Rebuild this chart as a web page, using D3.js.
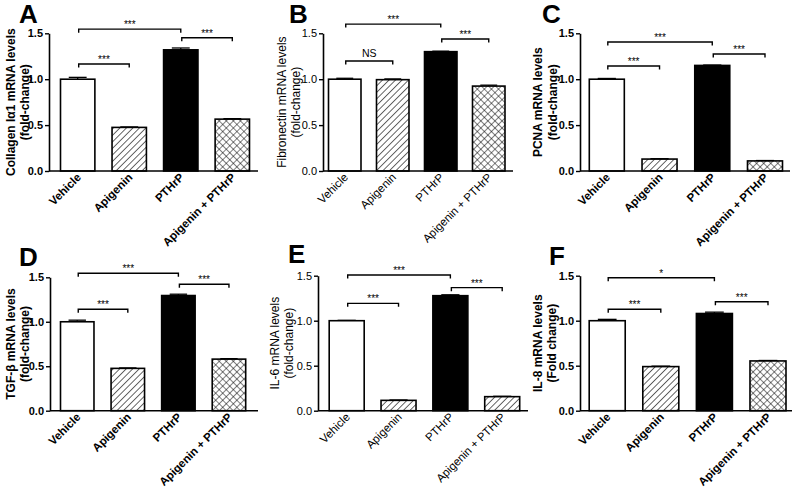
<!DOCTYPE html>
<html>
<head>
<meta charset="utf-8">
<script src="https://cdn.jsdelivr.net/npm/d3@7"></script>
<style>
  html, body { margin: 0; padding: 0; background: #fff; }
  svg { display: block; font-family: "Liberation Sans", Arial, Helvetica, sans-serif; }
</style>
</head>
<body>
<svg id="chart" width="800" height="489"></svg>
<script>
// ---------------- DATA ----------------
const categories = ["Vehicle", "Apigenin", "PTHrP", "Apigenin + PTHrP"];
const yTicks = [0, 0.5, 1.0, 1.5];
const panelLetters = ["A", "B", "C", "D", "E", "F"];
const titleLine1 = ["Collagen I\u03B11 mRNA levels", "Fibronectin mRNA levels", "PCNA mRNA levels",
                    "TGF-\u03B2 mRNA levels", "IL-6 mRNA levels", "IL-8 mRNA levels"];
const titleLine2 = ["(fold-change)", "(fold-change)", "(fold-change)",
                    "(fold-change)", "(fold-change)", "(Fold change)"];

const valuesA = [1.00, 0.475, 1.32, 0.565];
const valuesB = [1.00, 0.995, 1.30, 0.925];
const valuesC = [1.00, 0.13, 1.15, 0.11];
const valuesD = [1.00, 0.476, 1.295, 0.58];
const valuesE = [1.00, 0.115, 1.278, 0.156];
const valuesF = [1.00, 0.49, 1.08, 0.553];

const errorsA = [0.02, 0.005, 0.02, 0.005];
const errorsB = [0.01, 0.008, 0.005, 0.01];
const errorsC = [0.008, 0.004, 0.004, 0.004];
const errorsD = [0.018, 0.005, 0.015, 0.005];
const errorsE = [0.004, 0.004, 0.01, 0.004];
const errorsF = [0.015, 0.005, 0.015, 0.005];

// [from index, to index, level (data units), label]
const bracketsA = [[0, 2, 1.545, "***"], [0, 1, 1.165, "***"], [2, 3, 1.452, "***"]];
const bracketsB = [[0, 2, 1.60, "***"], [0, 1, 1.198, "NS"], [2, 3, 1.438, "***"]];
const bracketsC = [[0, 2, 1.405, "***"], [0, 1, 1.144, "***"], [2, 3, 1.275, "***"]];
const bracketsD = [[0, 2, 1.546, "***"], [0, 1, 1.141, "***"], [2, 3, 1.422, "***"]];
const bracketsE = [[0, 2, 1.508, "***"], [0, 1, 1.193, "***"], [2, 3, 1.367, "***"]];
const bracketsF = [[0, 2, 1.478, "*"], [0, 1, 1.127, "***"], [2, 3, 1.211, "***"]];

// ---------------- LAYOUT / STYLE ----------------
const layout = [
  { axisX: 49,  axisEnd: 258, barL: 60.5,  barR: 249.5, pad: 0.333, yTop: 33.3,  yZero: 171,   bold: true,  lx: 19,  ly: 23,  t1: 15,  t2: 28.5, fills: ["white", "hatch", "black", "cross"] },
  { axisX: 323, axisEnd: 513, barL: 328.5, barR: 505,   pad: 0.323, yTop: 33.3,  yZero: 171,   bold: false, lx: 289, ly: 23,  t1: 286, t2: 299.5, fills: ["white", "hatch", "black", "cross"] },
  { axisX: 580, axisEnd: 790, barL: 589.3, barR: 782.5, pad: 0.336, yTop: 33.3,  yZero: 171,   bold: true,  lx: 542, ly: 23,  t1: 542, t2: 556.5, fills: ["white", "hatch", "black", "cross"] },
  { axisX: 50,  axisEnd: 258, barL: 60.5,  barR: 245.7, pad: 0.338, yTop: 277.3, yZero: 410.7, bold: true,  lx: 19,  ly: 266, t1: 15,  t2: 28.5, fills: ["white", "hatch", "black", "cross"] },
  { axisX: 318, axisEnd: 528, barL: 329.2, barR: 519.7, pad: 0.325, yTop: 275.7, yZero: 410.7, bold: false, lx: 288, ly: 263, t1: 279, t2: 292.5, fills: ["white", "hatch", "black", "hatch"] },
  { axisX: 580, axisEnd: 792, barL: 589.2, barR: 786,   pad: 0.328, yTop: 275.7, yZero: 410.7, bold: true,  lx: 549, ly: 265, t1: 542, t2: 555.5, fills: ["white", "hatch", "black", "cross"] }
];

const allValues = [valuesA, valuesB, valuesC, valuesD, valuesE, valuesF];
const allErrors = [errorsA, errorsB, errorsC, errorsD, errorsE, errorsF];
const allBrackets = [bracketsA, bracketsB, bracketsC, bracketsD, bracketsE, bracketsF];

const svg = d3.select("#chart");

// patterns
const defs = svg.append("defs");
const ph = defs.append("pattern").attr("id", "hatch").attr("patternUnits", "userSpaceOnUse")
  .attr("width", 4.6).attr("height", 4.6).attr("patternTransform", "rotate(45)");
ph.append("rect").attr("width", 4.6).attr("height", 4.6).attr("fill", "#fff");
ph.append("line").attr("x1", 0).attr("y1", 0).attr("x2", 0).attr("y2", 4.6)
  .attr("stroke", "#000").attr("stroke-width", 1.2);
const pc = defs.append("pattern").attr("id", "cross").attr("patternUnits", "userSpaceOnUse")
  .attr("width", 5).attr("height", 5).attr("patternTransform", "rotate(45)");
pc.append("rect").attr("width", 5).attr("height", 5).attr("fill", "#fff");
pc.append("line").attr("x1", 0).attr("y1", 0).attr("x2", 0).attr("y2", 5)
  .attr("stroke", "#000").attr("stroke-width", 1);
pc.append("line").attr("x1", 0).attr("y1", 0).attr("x2", 5).attr("y2", 0)
  .attr("stroke", "#000").attr("stroke-width", 1);

const fillMap = { white: "#fff", black: "#000", hatch: "url(#hatch)", cross: "url(#cross)" };

layout.forEach((L, p) => {
  const values = allValues[p], errors = allErrors[p], brackets = allBrackets[p];
  const weight = L.bold ? "bold" : "normal";
  const g = svg.append("g");

  const x = d3.scaleBand().domain(categories).range([L.barL, L.barR])
    .paddingInner(L.pad).paddingOuter(0);
  const y = d3.scaleLinear().domain([0, 1.5]).range([L.yZero, L.yTop]);
  const bw = x.bandwidth();

  // bars
  g.selectAll("rect.bar").data(categories).join("rect")
    .attr("class", "bar")
    .attr("x", d => x(d))
    .attr("y", (d, i) => y(values[i]))
    .attr("width", bw)
    .attr("height", (d, i) => y(0) - y(values[i]))
    .attr("fill", (d, i) => fillMap[L.fills[i]])
    .attr("stroke", "#000").attr("stroke-width", 1.6);

  // error bars
  categories.forEach((c, i) => {
    const cx = x(c) + bw / 2;
    const top = y(values[i] + errors[i]);
    g.append("line").attr("x1", cx).attr("x2", cx).attr("y1", y(values[i])).attr("y2", top)
      .attr("stroke", "#000").attr("stroke-width", 1.3);
    g.append("line").attr("x1", cx - bw * 0.26).attr("x2", cx + bw * 0.26).attr("y1", top).attr("y2", top)
      .attr("stroke", "#000").attr("stroke-width", 1.3);
  });

  // y axis
  const ya = g.append("g").attr("transform", `translate(${L.axisX},0)`)
    .call(d3.axisLeft(y).tickValues(yTicks).tickFormat(d3.format(".1f")).tickSize(4).tickSizeOuter(0).tickPadding(2));
  ya.select(".domain").attr("stroke-width", 1.6);
  ya.selectAll(".tick line").attr("stroke-width", 1.4);
  ya.selectAll(".tick text").attr("font-size", 11).attr("font-weight", weight)
    .attr("font-family", "Liberation Sans, Arial, sans-serif").attr("fill", "#000");

  // x axis line
  g.append("line").attr("x1", L.axisX).attr("x2", L.axisEnd).attr("y1", L.yZero).attr("y2", L.yZero)
    .attr("stroke", "#000").attr("stroke-width", 1.6);

  // category labels
  g.selectAll("text.cat").data(categories).join("text")
    .attr("class", "cat")
    .attr("transform", d => `translate(${x(d) + bw / 2 + 4},${L.yZero + 7}) rotate(-45)`)
    .attr("text-anchor", "end")
    .attr("font-size", 11.5).attr("font-weight", weight)
    .text(d => d);

  // y title
  const ymid = (L.yTop + L.yZero) / 2;
  g.append("text").attr("transform", `translate(${L.t1},${ymid}) rotate(-90)`)
    .attr("text-anchor", "middle").attr("font-size", 12).attr("font-weight", weight)
    .text(titleLine1[p]);
  g.append("text").attr("transform", `translate(${L.t2},${ymid}) rotate(-90)`)
    .attr("text-anchor", "middle").attr("font-size", 12).attr("font-weight", weight)
    .text(titleLine2[p]);

  // panel letter
  g.append("text").attr("x", L.lx).attr("y", L.ly).attr("font-size", 26).attr("font-weight", "bold")
    .text(panelLetters[p]);

  // brackets
  brackets.forEach(([a, b, lev, lab]) => {
    const x1 = x(categories[a]) + bw / 2 + 1, x2 = x(categories[b]) + bw / 2;
    const yy = y(lev);
    g.append("path").attr("d", `M${x1},${yy + 3.5}V${yy}H${x2}V${yy + 3.5}`)
      .attr("fill", "none").attr("stroke", "#000").attr("stroke-width", 1.4);
    g.append("text").attr("x", (x1 + x2) / 2).attr("y", lab === "NS" ? yy - 4 : yy - 1)
      .attr("text-anchor", "middle").attr("font-size", lab === "NS" ? 10.5 : 10)
      .text(lab);
  });
});
</script>
</body>
</html>
